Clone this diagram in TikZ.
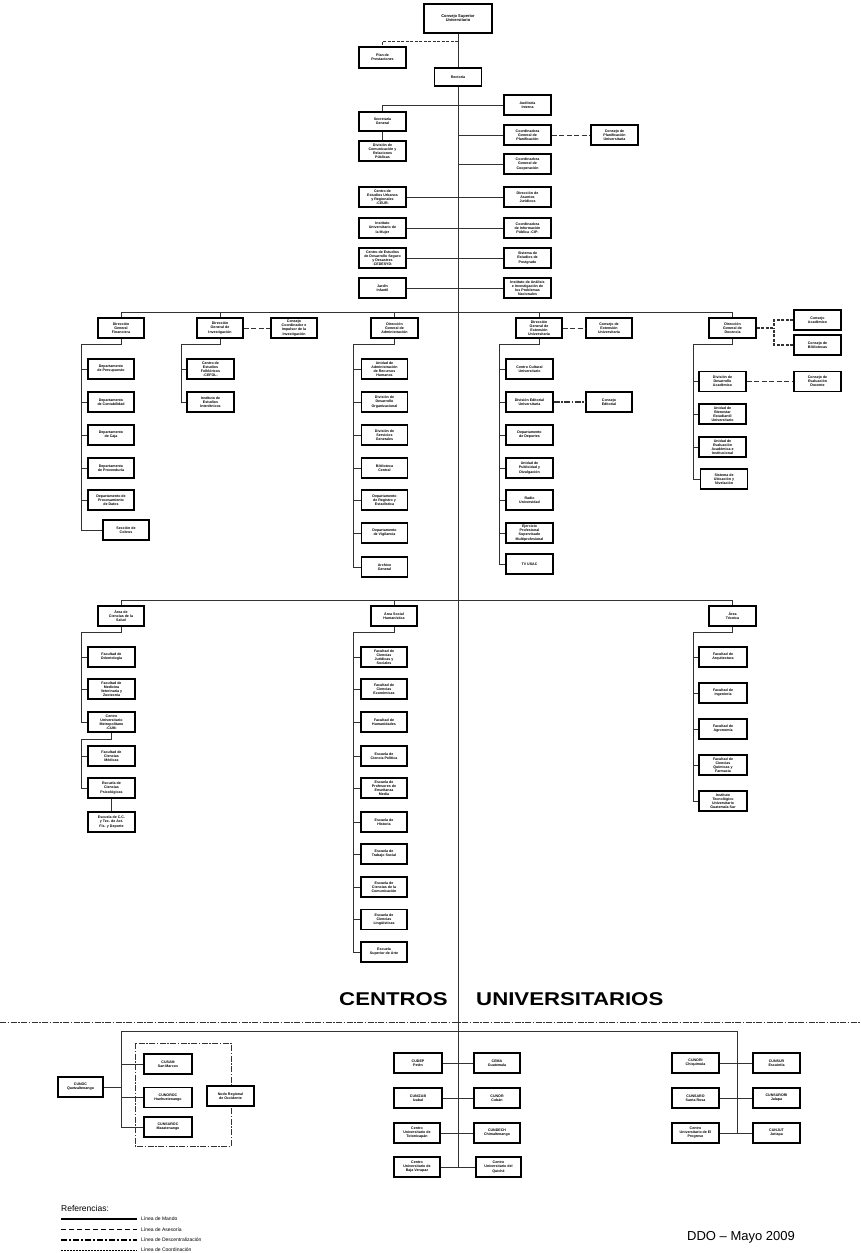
\documentclass[tikz,border=0pt]{standalone}
\usepackage{fontspec}
\setmainfont{Liberation Sans}
\newcommand\bxfont{\fontsize{3.6pt}{4.1pt}\selectfont\bfseries}
\newcommand\ob[5][]{\node[box,#1] (#2) at (#3,#4) {#5};}
\tikzset{
 box/.style={draw=black, line width=1.1pt, fill=white, minimum width=47pt, minimum height=20pt, inner sep=0.3pt, align=center, font=\bxfont},
 ln/.style={draw=black!80, line width=0.9pt},
 ases/.style={draw=black!80, line width=0.9pt, dash pattern=on 3pt off 1.5pt},
 coord/.style={draw=black!80, line width=0.9pt, dash pattern=on 5pt off 2.5pt},
 desc/.style={draw=black!80, line width=1.2pt, dash pattern=on 6pt off 1.5pt on 1.5pt off 1.5pt},
 mando/.style={draw=black, line width=2pt},
 legtxt/.style={anchor=west, inner sep=0pt, font=\fontsize{5pt}{6pt}\selectfont},
 bigtxt/.style={inner sep=0pt, xscale=1.2, font=\fontsize{18.5pt}{19pt}\selectfont\bfseries},
}
\begin{document}
\begin{tikzpicture}[x=1pt,y=-1pt]
\fill[white] (0,0) rectangle (861,1253);
\useasboundingbox (0,0) rectangle (861,1253);

% ---------- top
\ob[minimum width=68pt, minimum height=29pt, line width=2pt, font=\fontsize{4pt}{4.8pt}\selectfont\bfseries]{csu}{458}{18}{Consejo Superior\\Universitario}
\ob[minimum height=21pt]{plan}{382.5}{57.5}{Plan de\\Prestaciones}
\ob[minimum height=18pt, line width=1.6pt]{rect}{458}{77}{Rectoría}
\ob{aud}{527.5}{105}{Auditoría\\Interna}
\ob[minimum height=19pt]{sec}{382.5}{121.5}{Secretaría\\General}
\ob{divcom}{382.5}{151}{División de\\Comunicación y\\Relaciones\\Públicas}
\ob{cgp}{527.5}{135}{Coordinadora\\General de\\Planificación}
\ob{cpu}{614.5}{135}{Consejo de\\Planificación\\Universitaria}
\ob{cgc}{527.5}{164}{Coordinadora\\General de\\Cooperación}
\ob{ceur}{382.5}{197}{Centro de\\Estudios Urbanos\\y Regionales\\-CEUR-}
\ob{daj}{527.5}{197}{Dirección de\\Asuntos\\Jurídicos}
\ob{ium}{382.5}{228}{Instituto\\Universitario de\\la Mujer}
\ob{cip}{527.5}{228}{Coordinadora\\de Información\\Pública -CIP-}
\ob{cedesyd}{382.5}{258}{Centro de Estudios\\de Desarrollo Seguro\\y Desastres\\-CEDESYD-}
\ob{sep}{527.5}{258}{Sistema de\\Estudios de\\Postgrado}
\ob{jardin}{382.5}{288}{Jardín\\Infantil}
\ob{ipn}{527.5}{288}{Instituto de Análisis\\e Investigación de\\los Problemas\\Nacionales}

\coordinate (tend) at (458,1167);
\coordinate (pj) at (458,41);
\draw[ln] (csu) -- (rect);
\draw[ln] (rect.south) -- (rect.south |- tend);
\draw[ases] (pj) -| (plan.north);
\draw[ln] (sec.north) |- (aud.west);
\draw[ln] (sec) -- (divcom);
\draw[ln] (cgp.west) -- (cgp.west -| rect);
\draw[coord] (cgp) -- (cpu);
\draw[ln] (cgc.west) -- (cgc.west -| rect);
\draw[ln] (ceur) -- (daj);
\draw[ln] (ium) -- (cip);
\draw[ln] (cedesyd) -- (sep);
\draw[ln] (jardin) -- (ipn);

% ---------- direcciones
\ob[minimum width=46pt]{dgf}{121}{328}{Dirección\\General\\Financiera}
\ob[minimum width=46pt]{dgi}{220}{328}{Dirección\\General de\\Investigación}
\ob[minimum width=46pt]{ccii}{294}{328}{Consejo\\Coordinador e\\Impulsor de la\\Investigación}
\ob{dga}{394.5}{328}{Dirección\\General de\\Administración}
\ob[minimum width=46pt]{dgeu}{539}{328}{Dirección\\General de\\Extensión\\Universitaria}
\ob[minimum width=46pt]{ceu}{609}{328}{Consejo de\\Extensión\\Universitaria}
\ob{dgd}{732.5}{328}{Dirección\\General de\\Docencia}
\ob{cacad}{817.5}{320}{Consejo\\Académico}
\ob{cbib}{817.5}{345}{Consejo de\\Bibliotecas}

\coordinate (h1) at (0,312);
\draw[ln] (dgf.north) -- (dgf.north |- h1) -- (dgd.north |- h1) -- (dgd.north);
\draw[ln] (dgi.north) -- (dgi.north |- h1);
\draw[ln] (dga.north) -- (dga.north |- h1);
\draw[ln] (dgeu.north) -- (dgeu.north |- h1);
\draw[coord] (dgi) -- (ccii);
\draw[coord] (dgeu) -- (ceu);
\coordinate (dj) at (774,328);
\draw[ases, line width=1.1pt] (dgd.east) -- (dj);
\draw[ases, line width=1.1pt] (cacad.west) -| (dj);
\draw[ases, line width=1.1pt] (cbib.west) -| (dj);

% financiera
\coordinate (bF) at (81,0);
\ob[minimum width=46pt]{dpre}{111}{369}{Departamento\\de Presupuesto}
\ob[minimum width=46pt]{dcon}{111}{402}{Departamento\\de Contabilidad}
\ob[minimum width=46pt]{dcaja}{111}{435}{Departamento\\de Caja}
\ob[minimum width=46pt]{dprov}{111}{468}{Departamento\\de Proveeduría}
\ob[minimum width=46pt]{dpd}{111}{500}{Departamento de\\Procesamiento\\de Datos}
\ob[minimum width=46pt]{scob}{126}{530}{Sección de\\Cobros}
\draw[ln] (dgf.south) -- ++(0,6) -| (scob.west -| bF) -- (scob.west);
\foreach \n in {dpre,dcon,dcaja,dprov,dpd} \draw[ln] (\n.west -| bF) -- (\n.west);

% investigacion
\coordinate (bI) at (181,0);
\ob{cefol}{210.5}{369}{Centro de\\Estudios\\Folklóricos\\-CEFOL-}
\ob{iei}{210.5}{402}{Instituto de\\Estudios\\Interétnicos}
\draw[ln] (dgi.south) -- ++(0,6) -| (iei.west -| bI) -- (iei.west);
\draw[ln] (cefol.west -| bI) -- (cefol.west);

% administracion
\coordinate (bA) at (353,0);
\ob[minimum width=46pt]{uarh}{384.5}{369}{Unidad de\\Administración\\de Recursos\\Humanos}
\ob[minimum width=46pt]{ddo}{384.5}{402}{División de\\Desarrollo\\Organizacional}
\ob[minimum width=46pt]{dsg}{384.5}{435}{División de\\Servicios\\Generales}
\ob[minimum width=46pt]{bc}{384.5}{468}{Biblioteca\\Central}
\ob[minimum width=46pt]{dre}{384.5}{500}{Departamento\\de Registro y\\Estadística}
\ob[minimum width=46pt]{dv}{384.5}{533}{Departamento\\de Vigilancia}
\ob[minimum width=46pt]{ag}{384.5}{567}{Archivo\\General}
\draw[ln] (dga.south) -- ++(0,6) -| (ag.west -| bA) -- (ag.west);
\foreach \n in {uarh,ddo,dsg,bc,dre,dv} \draw[ln] (\n.west -| bA) -- (\n.west);

% extension
\coordinate (bE) at (499,0);
\ob{ccu}{529.5}{369}{Centro Cultural\\Universitario}
\ob{deu}{529.5}{402}{División Editorial\\Universitaria}
\ob[minimum width=46pt]{cedit}{609}{402}{Consejo\\Editorial}
\ob{ddep}{529.5}{435}{Departamento\\de Deportes}
\ob{upd}{529.5}{468}{Unidad de\\Publicidad y\\Divulgación}
\ob{ru}{529.5}{500}{Radio\\Universidad}
\ob{eps}{529.5}{533}{Ejercicio\\Profesional\\Supervisado\\Multiprofesional}
\ob{tv}{529.5}{564}{TV USAC}
\draw[ln] (dgeu.south) -- ++(0,6) -| (tv.west -| bE) -- (tv.west);
\foreach \n in {ccu,deu,ddep,upd,ru,eps} \draw[ln] (\n.west -| bE) -- (\n.west);
\draw[desc] (deu) -- (cedit);

% docencia
\coordinate (bD) at (693,0);
\ob{dda}{722.5}{381.5}{División de\\Desarrollo\\Académico}
\ob{ced}{817.5}{381.5}{Consejo de\\Evaluación\\Docente}
\ob{ubeu}{722.5}{414}{Unidad de\\Bienestar\\Estudiantil\\Universitario}
\ob{ueai}{722.5}{447}{Unidad de\\Evaluación\\Académica e\\Institucional}
\ob{sun}{724}{479}{Sistema de\\Ubicación y\\Nivelación}
\draw[ln] (dgd.south) -- ++(0,6) -| (sun.west -| bD) -- (sun.west);
\foreach \n in {dda,ubeu,ueai} \draw[ln] (\n.west -| bD) -- (\n.west);
\draw[coord] (dda) -- (ced);

% ---------- areas
\ob[minimum width=46pt]{acs}{121}{616}{Área de\\Ciencias de la\\Salud}
\ob[minimum width=46pt]{ash}{394}{616}{Área Social\\Humanística}
\ob{at}{732.5}{616}{Área\\Técnica}
\coordinate (h2) at (0,600);
\draw[ln] (acs.north) -- (acs.north |- h2) -- (at.north |- h2) -- (at.north);
\draw[ln] (ash.north) -- (ash.north |- h2);

% salud
\coordinate (bS) at (81,0);
\ob{fodo}{111.5}{657}{Facultad de\\Odontología}
\ob{fmvz}{111.5}{689}{Facultad de\\Medicina\\Veterinaria y\\Zootecnia}
\ob{cum}{111.5}{722}{Centro\\Universitario\\Metropolitano\\-CUM-}
\ob{fcm}{111.5}{756}{Facultad de\\Ciencias\\Médicas}
\ob{ecp}{111.5}{788}{Escuela de\\Ciencias\\Psicológicas}
\ob{ectafd}{111.5}{822}{Escuela de C.C.\\y Tec. de Act.\\Fís. y Deporte}
\draw[ln] (acs.south) -- ++(0,6) -| (cum.west -| bS) -- (cum.west);
\foreach \n in {fodo,fmvz} \draw[ln] (\n.west -| bS) -- (\n.west);
\draw[ln] (cum.south) -- ++(0,7) -| (ecp.west -| bS) -- (ecp.west);
\draw[ln] (fcm.west -| bS) -- (fcm.west);
\draw[ln] (ecp) -- (ectafd);

% social humanistica
\coordinate (bH) at (353,0);
\ob[minimum width=46pt]{fcjs}{384}{657}{Facultad de\\Ciencias\\Jurídicas y\\Sociales}
\ob[minimum width=46pt]{fce}{384}{689}{Facultad de\\Ciencias\\Económicas}
\ob[minimum width=46pt]{fh}{384}{722}{Facultad de\\Humanidades}
\ob[minimum width=46pt]{ecpol}{384}{756}{Escuela de\\Ciencia Política}
\ob[minimum width=46pt]{efpem}{384}{788}{Escuela de\\Profesores de\\Enseñanza\\Media}
\ob[minimum width=46pt]{eh}{384}{822}{Escuela de\\Historia}
\ob[minimum width=46pt]{ets}{384}{854}{Escuela de\\Trabajo Social}
\ob[minimum width=46pt]{ecc}{384}{887}{Escuela de\\Ciencias de la\\Comunicación}
\ob[minimum width=46pt]{ecl}{384}{919.5}{Escuela de\\Ciencias\\Lingüísticas}
\ob[minimum width=46pt]{esa}{384}{952}{Escuela\\Superior de Arte}
\draw[ln] (ash.south) -- ++(0,6) -| (esa.west -| bH) -- (esa.west);
\foreach \n in {fcjs,fce,fh,ecpol,efpem,eh,ets,ecc,ecl} \draw[ln] (\n.west -| bH) -- (\n.west);

% tecnica
\coordinate (bT) at (693,0);
\ob[minimum width=48pt]{farq}{723}{657}{Facultad de\\Arquitectura}
\ob[minimum width=48pt]{fing}{723}{693}{Facultad de\\Ingeniería}
\ob[minimum width=48pt]{fagr}{723}{729}{Facultad de\\Agronomía}
\ob[minimum width=48pt]{fcqf}{723}{765}{Facultad de\\Ciencias\\Químicas y\\Farmacia}
\ob[minimum width=48pt]{itugs}{723}{801}{Instituto\\Tecnológico\\Universitario\\Guatemala Sur}
\draw[ln] (at.south) -- ++(0,6) -| (itugs.west -| bT) -- (itugs.west);
\foreach \n in {farq,fing,fagr,fcqf} \draw[ln] (\n.west -| bT) -- (\n.west);

% ---------- centros universitarios
\node[bigtxt, anchor=east] (tc1) at (448,999) {CENTROS};
\node[bigtxt, anchor=west] (tc2) at (476,999) {UNIVERSITARIOS};
\coordinate (sepL) at (0,1022);
\coordinate (sepR) at (861,1022);
\draw[desc, line width=0.9pt] (sepL) -- (sepR);

\coordinate (h3) at (0,1031);
\coordinate (bL) at (121,0);
\coordinate (bR) at (737,0);

% left group
\draw[desc, line width=1pt] (135,1043) rectangle (231,1146);
\ob[minimum width=45pt]{cunoc}{80.5}{1087}{CUNOC\\Quetzaltenango}
\ob[minimum width=48pt]{cusam}{168}{1064}{CUSAM\\San Marcos}
\ob[minimum width=48pt]{cunoroc}{168}{1097.5}{CUNOROC\\Huehuetenango}
\ob[minimum width=48pt]{cunsuroc}{168}{1127}{CUNSUROC\\Mazatenango}
\ob{nodo}{230.5}{1096}{Nodo Regional\\de Occidente}
\draw[ln] (cunoc.east) -- (cunoc.east -| bL);
\draw[ln] (cusam.west -| bL) -- (cusam.west);
\draw[ln] (cunoroc.west -| bL) -- (cunoroc.west);

% middle group
\ob[minimum width=48pt]{cudep}{418}{1063}{CUDEP\\Petén}
\ob[minimum width=46pt]{cema}{497}{1063}{CEMA\\Guatemala}
\ob[minimum width=48pt]{cunizab}{418}{1098}{CUNIZAB\\Izabal}
\ob[minimum width=46pt]{cunor}{497}{1098}{CUNOR\\Cobán}
\ob[minimum width=46pt]{cut}{417}{1133}{Centro\\Universitario de\\Totonicapán}
\ob[minimum width=46pt]{cundech}{497}{1133}{CUNDECH\\Chimaltenango}
\ob[minimum width=46pt]{cubv}{417}{1167}{Centro\\Universitario de\\Baja Verapaz}
\ob[minimum width=45pt]{cuq}{498.5}{1167}{Centro\\Universitario del\\Quiché}
\draw[ln] (cudep) -- (cema);
\draw[ln] (cunizab) -- (cunor);
\draw[ln] (cut) -- (cundech);
\draw[ln] (cubv) -- (cuq);

% right group
\ob{cunori}{695.5}{1063}{CUNORI\\Chiquimula}
\ob{cunsur}{776.5}{1063}{CUNSUR\\Escuintla}
\ob{cunsaro}{695.5}{1098}{CUNSARO\\Santa Rosa}
\ob{cunsurori}{776.5}{1098}{CUNSURORI\\Jalapa}
\ob{cuep}{695.5}{1133}{Centro\\Universitario de El\\Progreso}
\ob{cunjut}{776.5}{1133}{CUNJUT\\Jutiapa}
\draw[ln] (cunori) -- (cunsur);
\draw[ln] (cunsaro) -- (cunsurori);
\draw[ln] (cuep.east) -- (cuep.east -| bR);
\draw[ln] (cunsuroc.west) -| (bL |- h3) -- (bR |- h3) |- (cunjut.west);

% ---------- legend
\node[anchor=west, inner sep=0pt, font=\fontsize{8.5pt}{9pt}\selectfont] (ref) at (61,1208) {Referencias:};
\coordinate (l1a) at (61,1219); \coordinate (l1b) at (137,1219);
\coordinate (l2a) at (61,1229.5); \coordinate (l2b) at (137,1229.5);
\coordinate (l3a) at (61,1240); \coordinate (l3b) at (137,1240);
\coordinate (l4a) at (61,1250); \coordinate (l4b) at (137,1250);
\draw[mando] (l1a) -- (l1b);
\draw[draw=black, line width=0.9pt, dash pattern=on 5pt off 3pt] (l2a) -- (l2b);
\draw[draw=black, line width=1.5pt, dash pattern=on 6pt off 2pt on 2pt off 2pt] (l3a) -- (l3b);
\draw[draw=black, line width=0.6pt, dash pattern=on 2pt off 1pt] (l4a) -- (l4b);
\node[legtxt] (t1) at (141,1219) {Línea de Mando};
\node[legtxt] (t2) at (141,1229.5) {Línea de Asesoría};
\node[legtxt] (t3) at (141,1240) {Línea de Descentralización};
\node[legtxt] (t4) at (141,1250) {Línea de Coordinación};
\node[anchor=west, inner sep=0pt, font=\fontsize{13pt}{14pt}\selectfont] (ddo) at (687,1237) {DDO – Mayo 2009};
\end{tikzpicture}
\end{document}
